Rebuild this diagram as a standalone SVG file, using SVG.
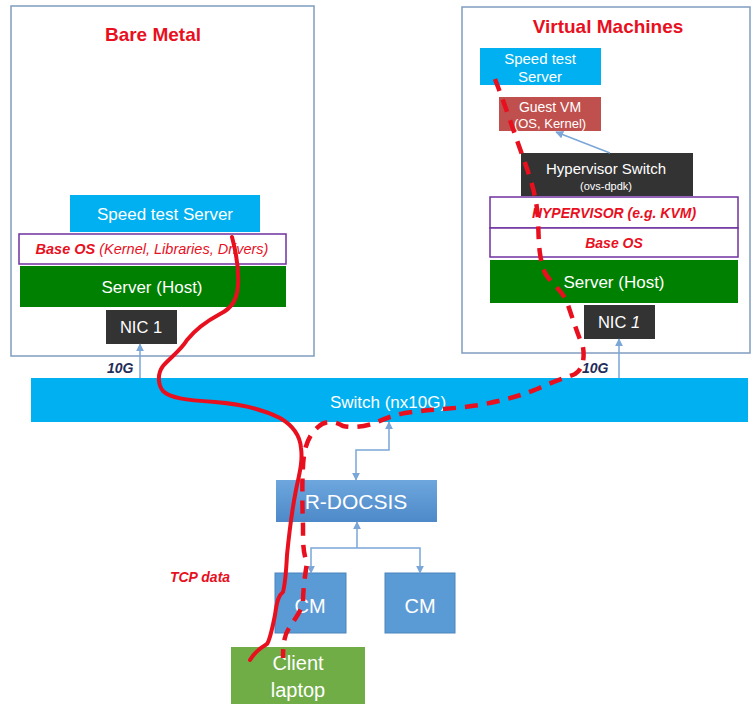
<svg xmlns="http://www.w3.org/2000/svg" width="753" height="704" viewBox="0 0 753 704">
<defs>
<style>
.frame{fill:#fff;stroke:#7f9cc0;stroke-width:1.5}
.sky{fill:#00b0f0}
.host{fill:#008000}
.dark{fill:#333333}
.layer{fill:#fff;stroke:#7030a0;stroke-width:1.5}
.w{fill:#fff;font-family:"Liberation Sans",Arial,sans-serif;text-anchor:middle}
.title{fill:#e8101e;font-family:"Liberation Sans",Arial,sans-serif;font-weight:bold;font-size:19px;text-anchor:middle}
.red{fill:#e8101e;font-family:"Liberation Sans",Arial,sans-serif;font-style:italic;font-weight:bold;font-size:14px;text-anchor:middle}
.navy{fill:#1f2d5a;font-family:"Liberation Sans",Arial,sans-serif;font-style:italic;font-weight:bold;font-size:14px}
.conn{fill:none;stroke:#7aa6d8;stroke-width:1.5}
.path{fill:none;stroke:#e8101e;stroke-width:4;stroke-linecap:round;stroke-linejoin:round}
.dash{fill:none;stroke:#e8101e;stroke-width:4.5;stroke-dasharray:13 9}
</style>
<marker id="ah" viewBox="0 0 10 10" refX="9" refY="5" markerWidth="8" markerHeight="8" markerUnits="userSpaceOnUse" orient="auto-start-reverse">
<path d="M0,0 L10,5 L0,10 z" fill="#7aa6d8"/>
</marker>
<linearGradient id="rd" x1="0" y1="0" x2="0" y2="1">
<stop offset="0" stop-color="#6ea7de"/>
<stop offset="1" stop-color="#4d89c9"/>
</linearGradient>
</defs>

<g id="bare-metal">
<rect class="frame" x="11" y="6" width="303" height="350"/>
<text class="title" x="153" y="41">Bare Metal</text>
</g>
<g id="speed-test-left">
<rect class="sky" x="70" y="195" width="190" height="37"/>
<text class="w" x="165" y="220" font-size="17">Speed test Server</text>
</g>
<g id="base-os-left">
<rect class="layer" x="19" y="234" width="267" height="30"/>
<text x="152" y="254" font-family="Liberation Sans, Arial, sans-serif" font-size="14.5" font-style="italic" fill="#e8101e" text-anchor="middle"><tspan font-weight="bold">Base OS</tspan> (Kernel, Libraries, Drivers)</text>
</g>
<g id="host-left">
<rect class="host" x="20" y="266" width="266" height="41"/>
<text class="w" x="152" y="293" font-size="17">Server (Host)</text>
</g>
<g id="nic-left">
<rect class="dark" x="106" y="310" width="71" height="34"/>
<text class="w" x="141" y="333" font-size="16.5">NIC 1</text>
</g>

<g id="virtual-machines">
<rect class="frame" x="462" y="7" width="288" height="346"/>
<text class="title" x="608" y="33">Virtual Machines</text>
</g>
<g id="speed-test-right">
<rect class="sky" x="480" y="48" width="121" height="37"/>
<text class="w" x="540" y="64" font-size="15">Speed test</text>
<text class="w" x="540" y="82" font-size="15">Server</text>
</g>
<g id="guest-vm">
<rect x="499" y="97" width="102" height="34" fill="#c0504d"/>
<text class="w" x="550" y="112" font-size="14">Guest VM</text>
<text class="w" x="550" y="128" font-size="13">(OS, Kernel)</text>
</g>
<g id="hypervisor-switch">
<rect class="dark" x="521" y="153" width="172" height="43"/>
<text class="w" x="606" y="174" font-size="15">Hypervisor Switch</text>
<text class="w" x="606" y="190" font-size="11">(ovs-dpdk)</text>
</g>
<g id="hypervisor">
<rect class="layer" x="490" y="197" width="248" height="31"/>
<text class="red" x="614" y="218">HYPERVISOR (e.g. KVM)</text>
</g>
<g id="base-os-right">
<rect class="layer" x="490" y="228" width="248" height="29"/>
<text class="red" x="614" y="248">Base OS</text>
</g>
<g id="host-right">
<rect class="host" x="490" y="260" width="248" height="43"/>
<text class="w" x="614" y="288" font-size="17">Server (Host)</text>
</g>
<g id="nic-right">
<rect class="dark" x="584" y="305" width="71" height="34"/>
<text class="w" x="619" y="328" font-size="16.5">NIC <tspan font-style="italic">1</tspan></text>
</g>

<g id="switch">
<rect class="sky" x="31" y="378" width="717" height="44"/>
<text class="w" x="388" y="408" font-size="17">Switch (nx10G)</text>
</g>
<g id="r-docsis">
<rect x="276" y="480" width="161" height="42" fill="url(#rd)"/>
<text class="w" x="356" y="509" font-size="21">R-DOCSIS</text>
</g>
<g id="cm-1">
<rect x="275" y="573" width="71" height="60" fill="#5b9bd5" stroke="#4a84bd" stroke-width="1"/>
<text class="w" x="310" y="613" font-size="20">CM</text>
</g>
<g id="cm-2">
<rect x="385" y="573" width="70" height="60" fill="#5b9bd5" stroke="#4a84bd" stroke-width="1"/>
<text class="w" x="420" y="613" font-size="20">CM</text>
</g>
<g id="client-laptop">
<rect x="231" y="647" width="134" height="57" fill="#70ad47"/>
<text class="w" x="298" y="670" font-size="20">Client</text>
<text class="w" x="298" y="697" font-size="20">laptop</text>
</g>

<g id="labels">
<text class="navy" x="107" y="373">10G</text>
<text class="navy" x="582" y="373">10G</text>
<text class="red" x="200" y="582" text-anchor="middle">TCP data</text>
</g>

<g id="connectors">
<line class="conn" x1="140" y1="378" x2="140" y2="344" marker-end="url(#ah)"/>
<line class="conn" x1="619" y1="378" x2="619" y2="339" marker-end="url(#ah)"/>
<line class="conn" x1="610" y1="153" x2="556" y2="132" marker-end="url(#ah)"/>
<path class="conn" d="M356,480 V450 H389 V422" marker-start="url(#ah)" marker-end="url(#ah)"/>
<path class="conn" d="M357,548 V522" marker-end="url(#ah)"/>
<path class="conn" d="M357,548 H311 V573" marker-end="url(#ah)"/>
<path class="conn" d="M357,548 H420 V573" marker-end="url(#ah)"/>
</g>

<g id="tcp-paths">
<path class="path" d="M232,237 C236,252 239,270 238,285 C237,300 232,308 220,314 C205,322 195,330 187,340 C181,350 170,358 163,366 C157,374 158,385 163,391 C170,398 185,400 215,402 C240,404 262,409 280,418 C292,425 300,435 301,448 C303,462 299,475 296,490 C292,510 289,535 287,555 C286,575 284,588 283,592 C279,595 277,600 275,615 C272,630 270,640 267,644 C262,647 256,650 250,660"/>
<path class="dash" d="M495,79 C505,105 515,135 524,160 C532,182 537,200 538,220 C539,240 538,255 545,273 C552,285 563,290 568,305 C573,320 578,335 583,347 C585,360 582,370 575,374 C565,378 552,382 537,389 C520,396 505,400 480,405 C455,409 430,409 405,413 C390,416 382,420 372,424 C362,427 352,428 343,426 C335,421 325,420 318,427 C311,433 306,442 304,455 C302,470 302,500 303,525 C303,545 303,552 307,563 C305,575 303,590 303,602 C301,612 294,620 289,628 C284,636 283,645 283,658"/>
</g>
</svg>
